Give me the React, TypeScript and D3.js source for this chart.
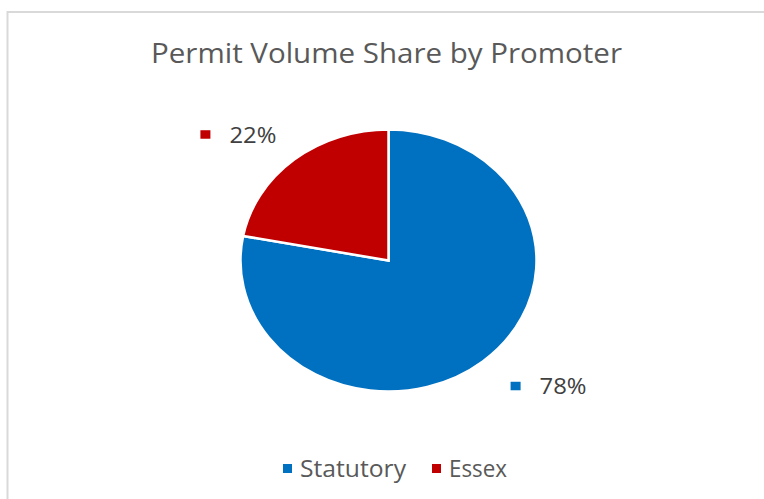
import React from "react";
import * as d3 from "d3";

const categories: string[] = ["Statutory", "Essex"];
const shares: number[] = [78, 22];
const colors: string[] = ["#0070C0", "#C00000"];
const titleText = "Permit Volume Share by Promoter";
const labelTexts: string[] = ["78%", "22%"];
const legendTextWidths: number[] = [106, 58];

export default function App() {
  const W = 764;
  const H = 499;
  const cx = 388.5;
  const cy = 260.5;
  const ry = 131;
  const rx = 148;
  const sx = rx / ry;

  const pie = d3
    .pie<number>()
    .sort(null)
    .value((d) => d)
    .startAngle(0)
    .endAngle(2 * Math.PI);
  const arcs = pie(shares);
  const arc = d3.arc<d3.PieArcDatum<number>>().innerRadius(0).outerRadius(ry);

  const kx = 1.644;
  const ky = 1.246;

  // legend layout
  const sq = 9;
  const sqGap = 8;
  const itemGap = 26;
  let lx = 283;
  const legendItems = categories.map((c, i) => {
    const item = { x: lx, name: c, color: colors[i], w: legendTextWidths[i] };
    lx += sq + sqGap + legendTextWidths[i] + itemGap;
    return item;
  });

  const font = "'Open Sans', 'Noto Sans', sans-serif";

  return (
    <svg
      width={W}
      height={H}
      style={{ position: "absolute", left: 0, top: 0, background: "#fff" }}
    >
      <rect x={0} y={0} width={W} height={H} fill="#fff" />
      <rect
        x={7.5}
        y={12}
        width={W + 20}
        height={H + 20}
        fill="none"
        stroke="#d9d9d9"
        strokeWidth={2}
      />
      <text
        x={386.5}
        y={63}
        textAnchor="middle"
        fontFamily={font}
        fontSize={28}
        fill="#595959"
        textLength={471}
        lengthAdjust="spacingAndGlyphs"
      >
        {titleText}
      </text>
      <g transform={`translate(${cx},${cy}) scale(${sx},1)`}>
        {arcs.map((a, i) => (
          <path
            key={i}
            d={arc(a) || ""}
            fill={colors[i]}
            stroke="#fff"
            strokeWidth={2.5}
            vectorEffect="non-scaling-stroke"
            strokeLinejoin="miter"
          />
        ))}
      </g>
      {arcs.map((a, i) => {
        const mid = (a.startAngle + a.endAngle) / 2;
        const gx = cx + Math.sin(mid) * rx * kx;
        const gy = cy - Math.cos(mid) * ry * ky;
        const textW = 47;
        const total = 10 + 19 + textW;
        const left = gx - total / 2 + 5;
        return (
          <g key={"lbl" + i}>
            <rect x={left} y={gy - 4.5} width={10} height={8.5} fill={colors[i]} />
            <text
              x={left + 10 + 19}
              y={gy + 8}
              fontFamily={font}
              fontSize={22}
              fill="#404040"
              textLength={textW}
              lengthAdjust="spacingAndGlyphs"
            >
              {labelTexts[i]}
            </text>
          </g>
        );
      })}
      {legendItems.map((it, i) => (
        <g key={"leg" + i}>
          <rect x={it.x} y={464} width={sq} height={9} fill={it.color} />
          <text
            x={it.x + sq + sqGap}
            y={477.3}
            fontFamily={font}
            fontSize={23}
            fill="#595959"
            textLength={it.w}
            lengthAdjust="spacingAndGlyphs"
          >
            {it.name}
          </text>
        </g>
      ))}
    </svg>
  );
}
